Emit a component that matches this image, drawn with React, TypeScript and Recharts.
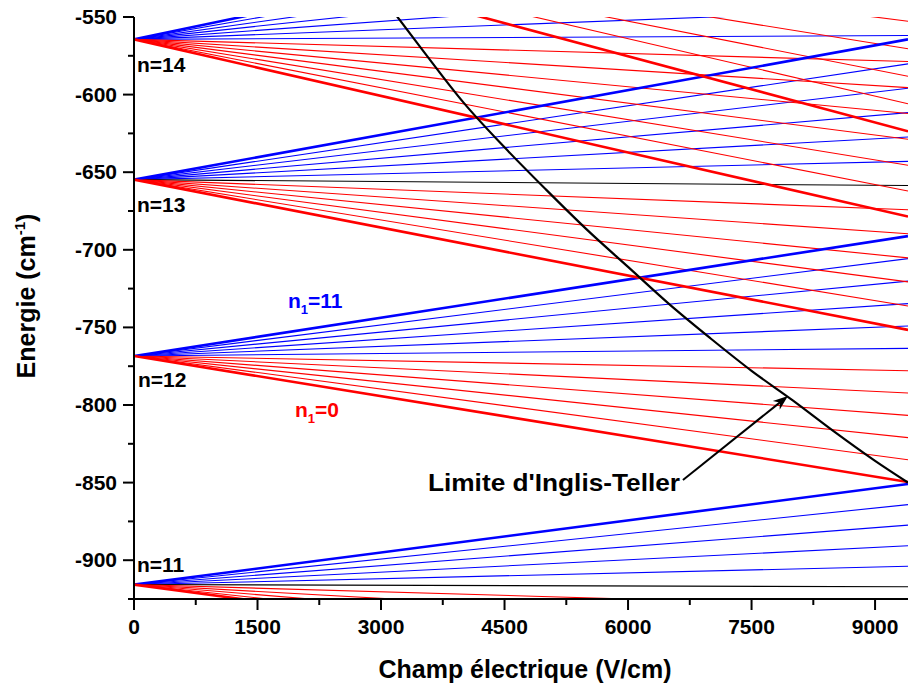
import React from 'react';
import { LineChart, Line, XAxis, YAxis, ReferenceLine } from 'recharts';

const FONT = '"Liberation Sans", Arial, Helvetica, sans-serif';

// hydrogenic levels shown and their zero-field energies (cm-1)
const levels = [11, 12, 13, 14, 15];
const zeroFieldEnergy = [-915.7, -768.4, -654.8, -564.4, -490.0];
// highest n1 listed for each level (for n=15 only the lowest states come into the frame)
const topN1 = [10, 11, 12, 13, 4];
// energies at the right edge (9400 V/cm), listed from the top n1 down to n1 = 0
const endN11 = [-850.9, -864.2, -877.4, -890.7, -903.9, -917.1, -930.3, -943.5, -956.6, -969.7, -982.9];
const endN12 = [-691.2, -705.7, -720.2, -734.7, -749.1, -763.5, -777.9, -792.3, -806.7, -821.0, -835.3, -849.6];
const endN13 = [-564.4, -580.2, -595.9, -611.6, -627.3, -643.0, -658.6, -674.2, -689.7, -705.2, -720.7, -736.2, -751.6];
const endN14 = [-460.2, -477.3, -494.3, -511.2, -528.2, -545.1, -561.9, -578.7, -595.5, -612.2, -628.8, -645.5, -662.1, -678.6];
const endN15 = [-552.7, -570.5, -588.2, -605.9, -623.6];
const endEnergies = [endN11, endN12, endN13, endN14, endN15];
const fieldEnds = [0, 9400];

// Inglis-Teller limit
const itField = [3000, 3500, 4000, 4500, 5000, 5500, 6000, 6500, 7000, 7500, 8000, 8500, 9000, 9400];
const itEnergy = [-536, -571, -605, -634, -661, -687, -711, -735, -757, -778, -797, -817, -836, -850];

const xTicks = [0, 750, 1500, 2250, 3000, 3750, 4500, 5250, 6000, 6750, 7500, 8250, 9000];
const yTicks = [-925, -900, -875, -850, -825, -800, -775, -750, -725, -700, -675, -650, -625, -600, -575, -550];

const BLUE = '#0000ff';
const RED = '#ff0000';

const stateLines = levels.flatMap((n, li) =>
  endEnergies[li].map((eEnd, i) => {
    const n1 = topN1[li] - i;
    const k = 2 * n1 - (n - 1);
    const bold = n1 === 0 || n1 === n - 1;
    return {
      key: `n${n}-${n1}`,
      color: k > 0 ? BLUE : k < 0 ? RED : '#000000',
      bold,
      data: [
        { F: fieldEnds[0], E: zeroFieldEnergy[li] },
        { F: fieldEnds[1], E: eEnd },
      ],
    };
  })
);
const orderedLines = [...stateLines.filter((s) => !s.bold), ...stateLines.filter((s) => s.bold)];

const itData = itField.map((F, i) => ({ F, E: itEnergy[i] }));

const XTick = (props: any) => {
  const { x, y, payload } = props;
  const major = payload.value % 1500 === 0;
  return (
    <g>
      <line x1={x} x2={x} y1={y} y2={y + (major ? 11 : 6)} stroke="#000" strokeWidth={2} />
      {major && (
        <text x={x} y={y + 35} textAnchor="middle" fontSize={21} fontWeight="bold" fill="#000" fontFamily={FONT}>
          {payload.value}
        </text>
      )}
    </g>
  );
};

const YTick = (props: any) => {
  const { x, y, payload } = props;
  const major = payload.value % 50 === 0;
  return (
    <g>
      <line x1={x - (major ? 11 : 6)} x2={x} y1={y} y2={y} stroke="#000" strokeWidth={2} />
      {major && (
        <text x={x - 17} y={y + 7} textAnchor="end" fontSize={21} fontWeight="bold" fill="#000" fontFamily={FONT}>
          {payload.value}
        </text>
      )}
    </g>
  );
};

const Arrow = (props: any) => {
  const { x1, y1, x2, y2 } = props;
  const dx = x2 - x1;
  const dy = y2 - y1;
  const len = Math.hypot(dx, dy);
  const ux = dx / len;
  const uy = dy / len;
  const head = 15;
  const half = 5.5;
  const bx = x2 - ux * head;
  const by = y2 - uy * head;
  return (
    <g>
      <line x1={x1} y1={y1} x2={x2 - ux * head * 0.6} y2={y2 - uy * head * 0.6} stroke="#000" strokeWidth={2} />
      <polygon
        points={`${x2},${y2} ${bx - uy * half},${by + ux * half} ${x2 - ux * head * 0.7},${y2 - uy * head * 0.7} ${bx + uy * half},${by - ux * half}`}
        fill="#000"
      />
    </g>
  );
};

export default function App() {
  return (
    <div style={{ position: 'absolute', left: 0, top: 0, width: 908, height: 688, background: '#fff', fontFamily: FONT }}>
      <LineChart width={908} height={688} margin={{ top: 17, right: 0, bottom: 0, left: 0 }}>
        <XAxis
          dataKey="F"
          type="number"
          domain={[0, 9400]}
          allowDataOverflow
          ticks={xTicks}
          interval={0}
          height={89}
          tickSize={0}
          tickMargin={0}
          tick={(p: any) => <XTick {...p} />}
          axisLine={{ stroke: '#000', strokeWidth: 2 }}
        />
        <XAxis
          xAxisId="top"
          orientation="top"
          type="number"
          domain={[0, 9400]}
          allowDataOverflow
          ticks={xTicks}
          interval={0}
          height={0}
          mirror
          tick={false}
          tickSize={3}
          tickLine={{ stroke: '#000', strokeWidth: 1.5 }}
          axisLine={{ stroke: '#000', strokeWidth: 2 }}
        />
        <YAxis
          dataKey="E"
          type="number"
          domain={[-925, -550]}
          allowDataOverflow
          ticks={yTicks}
          interval={0}
          width={134}
          tickSize={0}
          tickMargin={0}
          tick={(p: any) => <YTick {...p} />}
          axisLine={{ stroke: '#000', strokeWidth: 2 }}
        />
        {orderedLines.map((s) => (
          <Line
            key={s.key}
            data={s.data}
            dataKey="E"
            type="linear"
            stroke={s.color}
            strokeWidth={s.bold ? 2.6 : 1.1}
            dot={false}
            activeDot={false}
            isAnimationActive={false}
          />
        ))}
        <Line
          data={itData}
          dataKey="E"
          type="monotone"
          stroke="#000"
          strokeWidth={2.2}
          dot={false}
          activeDot={false}
          isAnimationActive={false}
        />
        <ReferenceLine
          segment={[
            { x: 6667, y: -848.3 },
            { x: 7942, y: -794.2 },
          ]}
          shape={(p: any) => <Arrow {...p} />}
        />
      </LineChart>
      <svg
        width={908}
        height={688}
        style={{ position: 'absolute', left: 0, top: 0, pointerEvents: 'none' }}
        fontFamily={FONT}
        fontWeight="bold"
      >
        <text x={137} y={72} fontSize={21} fill="#000">n=14</text>
        <text x={137} y={212} fontSize={21} fill="#000">n=13</text>
        <text x={138} y={387} fontSize={21} fill="#000">n=12</text>
        <text x={137} y={572} fontSize={21} fill="#000">n=11</text>
        <text x={288} y={308} fontSize={21} fill={BLUE}>
          n<tspan fontSize={13} dy={6}>1</tspan>
          <tspan dy={-6}>=11</tspan>
        </text>
        <text x={295} y={417} fontSize={21} fill={RED}>
          n<tspan fontSize={13} dy={6}>1</tspan>
          <tspan dy={-6}>=0</tspan>
        </text>
        <text x={428} y={491} fontSize={24} fill="#000" textLength={252} lengthAdjust="spacingAndGlyphs">
          Limite d'Inglis-Teller
        </text>
        <text x={525} y={678} fontSize={25} textAnchor="middle" fill="#000">
          Champ électrique (V/cm)
        </text>
        <text x={35} y={296} fontSize={25} textAnchor="middle" fill="#000" transform="rotate(-90 35 296)">
          Energie (cm<tspan fontSize={15} dy={-10}>-1</tspan>
          <tspan dy={10}>)</tspan>
        </text>
      </svg>
    </div>
  );
}
